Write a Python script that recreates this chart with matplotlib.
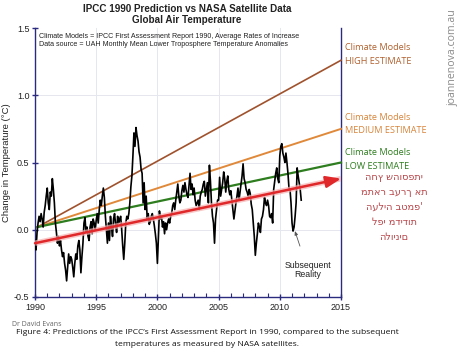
import matplotlib
matplotlib.use("Agg")
import matplotlib.pyplot as plt
import numpy as np

# ---------------- data ----------------
start_year = 1990.0
uah_monthly = (
    [-0.08, -0.15, -0.02, 0.05, 0.10, 0.06, 0.12, 0.08, 0.02, 0.13, 0.18, 0.25] +   # 1990
    [0.31, 0.20, 0.15, 0.28, 0.25, 0.38, 0.30, 0.20, 0.05, -0.02, -0.10, -0.05] +   # 1991
    [-0.12, -0.08, -0.15, -0.20, -0.17, -0.25, -0.30, -0.38, -0.28, -0.18, -0.25, -0.20] +  # 1992
    [-0.22, -0.28, -0.35, -0.25, -0.18, -0.22, -0.12, -0.08, -0.15, -0.32, -0.20, -0.10] +  # 1993
    [0.05, 0.09, -0.02, 0.02, -0.05, -0.08, 0.02, 0.06, -0.03, 0.08, 0.05, 0.00] +  # 1994
    [0.07, 0.12, 0.05, 0.15, 0.22, 0.18, 0.25, 0.31, 0.24, 0.10, 0.00, -0.10] +    # 1995
    [0.05, -0.08, 0.10, 0.02, -0.05, 0.08, 0.12, 0.04, -0.02, 0.10, 0.05, 0.08] +  # 1996
    [0.10, 0.00, -0.12, -0.22, -0.10, 0.05, 0.10, 0.08, 0.12, 0.20, 0.32, 0.40] +  # 1997
    [0.55, 0.72, 0.62, 0.76, 0.70, 0.66, 0.58, 0.54, 0.45, 0.42, 0.20, 0.35] +     # 1998
    [0.15, 0.25, 0.08, 0.12, 0.04, 0.06, 0.10, 0.12, 0.08, 0.03, -0.03, -0.10] +   # 1999
    [-0.25, -0.05, 0.14, 0.08, 0.10, 0.02, 0.06, -0.03, 0.05, 0.00, 0.05, 0.08] +  # 2000
    [0.05, 0.10, 0.12, 0.18, 0.20, 0.15, 0.22, 0.28, 0.34, 0.25, 0.20, 0.22] +     # 2001
    [0.29, 0.33, 0.28, 0.35, 0.30, 0.26, 0.24, 0.33, 0.42, 0.30, 0.34, 0.26] +     # 2002
    [0.31, 0.22, 0.18, 0.20, 0.22, 0.15, 0.25, 0.28, 0.30, 0.34, 0.36, 0.25] +     # 2003
    [0.30, 0.35, 0.20, 0.48, 0.36, 0.20, 0.10, 0.05, -0.10, 0.08, 0.15, 0.22] +    # 2004
    [0.22, 0.39, 0.25, 0.30, 0.35, 0.43, 0.38, 0.28, 0.36, 0.40, 0.30, 0.26] +     # 2005
    [0.29, 0.22, 0.15, 0.08, 0.14, 0.20, 0.25, 0.31, 0.22, 0.28, 0.34, 0.40] +     # 2006
    [0.49, 0.38, 0.35, 0.30, 0.28, 0.25, 0.30, 0.27, 0.19, 0.15, 0.05, -0.05] +    # 2007
    [-0.19, -0.10, -0.03, 0.05, 0.02, -0.02, 0.08, 0.10, 0.15, 0.24, 0.20, 0.18] + # 2008
    [0.22, 0.18, 0.10, 0.09, 0.12, 0.05, 0.30, 0.36, 0.42, 0.46, 0.38, 0.35] +     # 2009
    [0.55, 0.62, 0.64, 0.57, 0.54, 0.50, 0.57, 0.50, 0.42, 0.31, 0.30, 0.20] +     # 2010
    [0.05, -0.01, 0.02, 0.10, 0.20, 0.46, 0.40, 0.35, 0.30, 0.22]                  # 2011
)
model_years = [1990.2, 2015.0]
high_estimate = [0.02, 1.26]
medium_estimate = [0.02, 0.75]
low_estimate = [0.02, 0.50]
arrow_years = [1990.0, 2015.0]
arrow_values = [-0.10, 0.38]

x_ticks = [1990, 1995, 2000, 2005, 2010, 2015]
y_ticks = [-0.5, 0.0, 0.5, 1.0, 1.5]

# ---------------- figure ----------------
W, H = 465, 352
fig = plt.figure(figsize=(W / 100, H / 100), dpi=100)
fig.patch.set_facecolor("white")

def fx(px):
    return px / W

def fy(py):
    return 1 - py / H

ax = fig.add_axes([fx(35), fy(297), fx(341) - fx(35), fy(28) - fy(297)])
navy = "#2a2a7e"

months = start_year + np.arange(len(uah_monthly)) / 12.0

ax.set_xlim(1990, 2015)
ax.set_ylim(-0.5, 1.5)

# grid
for xv in [1995, 2000, 2005, 2010]:
    ax.axvline(xv, color="#e6e6ee", lw=0.7, zorder=0)
for yv in [0.0, 0.5, 1.0]:
    ax.axhline(yv, color="#e6e6ee", lw=0.7, zorder=0)

ax.plot(model_years, high_estimate, color="#a0522d", lw=1.2, zorder=3, clip_on=False)
ax.plot(model_years, medium_estimate, color="#e0893a", lw=1.4, zorder=3, clip_on=False)
ax.plot(model_years, low_estimate, color="#2e7d1f", lw=1.6, zorder=3, clip_on=False)

ax.plot(months, uah_monthly, color="black", lw=1.2, zorder=4)

# red arrow with pale halo
ax.plot(arrow_years, arrow_values, color="#f6b0b0", lw=4.0, alpha=0.7, zorder=5,
        solid_capstyle="butt")
ax.annotate("", xy=(arrow_years[1], arrow_values[1]),
            xytext=(arrow_years[0], arrow_values[0]),
            arrowprops=dict(arrowstyle="-|>,head_length=0.9,head_width=0.35",
                            color="#e0282a", lw=1.8, shrinkA=0, shrinkB=0),
            zorder=6, annotation_clip=False)

# spines
for s in ["left", "right", "bottom"]:
    ax.spines[s].set_color(navy)
    ax.spines[s].set_linewidth(1.0)
ax.spines["top"].set_visible(False)

ax.set_xticks(x_ticks)
ax.set_xticklabels([str(v) for v in x_ticks])
ax.set_xticks(np.arange(1990, 2016, 1), minor=True)
ax.set_yticks(y_ticks)
ax.set_yticklabels(["-0.5", "0.0", "0.5", "1.0", "1.5"])
ax.tick_params(axis="both", which="major", direction="inout", length=5, width=1.0,
               color=navy, labelsize=6.5, labelcolor="#222222", pad=1.5)
ax.tick_params(axis="x", which="minor", direction="in", length=3, width=0.8, color=navy)
ax.tick_params(axis="y", which="both", right=False)
ax.set_ylabel("Change in Temperature (\u00b0C)", fontsize=6.8, color="#222222",
              family="Liberation Sans", labelpad=2)
for lab in ax.get_xticklabels() + ax.get_yticklabels():
    lab.set_family("Liberation Sans")

ax.text(1990.3, 1.46,
        "Climate Models = IPCC First Assessment Report 1990, Average Rates of Increase\n"
        "Data source = UAH Monthly Mean Lower Troposphere Temperature Anomalies",
        fontsize=5.1, family="Liberation Sans", va="top", ha="left", color="#222222",
        linespacing=1.2)

# subsequent reality
ax.annotate("Subsequent\nReality", xy=(2011.2, 0.0), xytext=(2012.3, -0.30),
            fontsize=6.3, family="Liberation Sans", ha="center", va="center",
            color="#222222", linespacing=1.1,
            arrowprops=dict(arrowstyle="-|>,head_length=0.35,head_width=0.15",
                            color="#555555", lw=0.6, shrinkA=9, shrinkB=1))

# titles
fig.text(fx(187), fy(9), "IPCC 1990 Prediction vs NASA Satellite Data", ha="center",
         va="center", fontsize=7.1, fontweight="bold", family="Liberation Sans", color="#222222")
fig.text(fx(187), fy(20), "Global Air Temperature", ha="center",
         va="center", fontsize=7.1, fontweight="bold", family="Liberation Sans", color="#222222")

# right-side labels
lab_font = "Open Sans"
fig.text(fx(345), fy(48), "Climate Models", fontsize=6.6, color="#b0602e", family=lab_font, va="center")
fig.text(fx(345), fy(62), "HIGH ESTIMATE", fontsize=6.6, color="#b0602e", family=lab_font, va="center")
fig.text(fx(345), fy(118), "Climate Models", fontsize=6.6, color="#d8843a", family=lab_font, va="center")
fig.text(fx(345), fy(131), "MEDIUM ESTIMATE", fontsize=6.6, color="#d8843a", family=lab_font, va="center")
fig.text(fx(345), fy(153), "Climate Models", fontsize=6.6, color="#2e7d1f", family=lab_font, va="center")
fig.text(fx(345), fy(166), "LOW ESTIMATE", fontsize=6.6, color="#2e7d1f", family=lab_font, va="center")

# Hebrew note
heb_lines = ["החץ שהוספתי", "מתאר בערך את", "העליה בטמפ'", "לפי מדידות", "הלוינים"]
for i, line in enumerate(heb_lines):
    fig.text(fx(394), fy(177 + i * 15), line, fontsize=7.0, color="#b8484c",
             family="DejaVu Sans", ha="center", va="center")

# watermark
fig.text(fx(453), fy(58), "joannenova.com.au", rotation=90, fontsize=7.6,
         color="#8a8a8a", family="Open Sans", ha="center", va="center")

# captions
fig.text(fx(12), fy(324), "Dr David Evans", fontsize=5.0, color="#666666",
         family="Open Sans", va="center")
fig.text(fx(207), fy(333),
         "Figure 4: Predictions of the IPCC\u2019s First Assessment Report in 1990, compared to the subsequent",
         fontsize=6.1, color="#111111", family="Open Sans", ha="center", va="center")
fig.text(fx(207), fy(344), "temperatures as measured by NASA satellites.",
         fontsize=6.1, color="#111111", family="Open Sans", ha="center", va="center")

fig.savefig("out.png", dpi=100, facecolor="white")
